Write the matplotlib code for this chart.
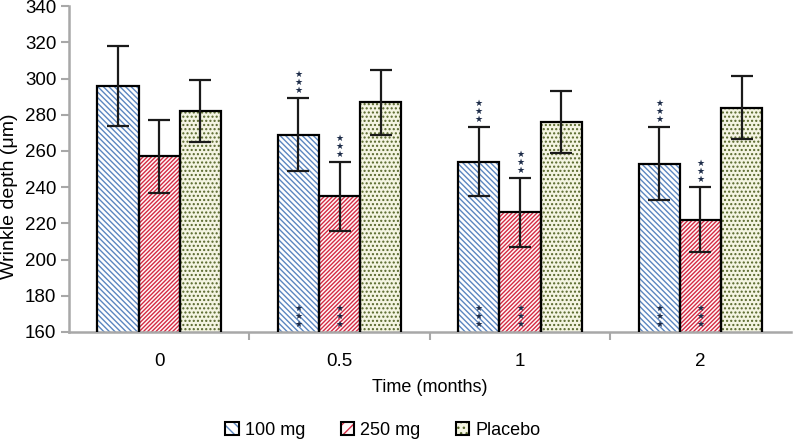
import numpy as np
import matplotlib.pyplot as plt
import matplotlib as mpl

plt.rcParams['font.family'] = ['Liberation Sans', 'DejaVu Sans']
plt.rcParams['hatch.linewidth'] = 1.0

# Data
months = ['0', '0.5', '1', '2']
series = ['100 mg', '250 mg', 'Placebo']
mean_100 = [296, 269, 254, 253]
err_100 = [22, 20, 19, 20]
mean_250 = [257, 235, 226, 222]
err_250 = [20, 19, 19, 18]
mean_pla = [282, 287, 276, 284]
err_pla = [17, 18, 17, 17.5]
# significance marks (*** above error bar and at the bar base)
sig_100 = [False, True, True, True]
sig_250 = [False, True, True, True]

means = [mean_100, mean_250, mean_pla]
errs = [err_100, err_250, err_pla]
sigs = [sig_100, sig_250, [False] * 4]

faces = ['white', '#fff8f8', '#f4f4e2']
hatch_cols = ['#5b86c0', '#d42a44', '#56662a']
hatches = ['\\' * 6, '/' * 8, '....']

fig = plt.figure(figsize=(7.93, 4.42), dpi=100)
ax = fig.add_axes([0.087, 0.249, 0.910, 0.737])

x = np.arange(len(months))
w = 0.228
handles = []
for i in range(3):
    pos = x + (i - 1) * w
    ax.bar(pos, means[i], w, color=faces[i], hatch=hatches[i],
           edgecolor=hatch_cols[i], linewidth=0, zorder=2)
    ax.bar(pos, means[i], w, fill=False, edgecolor='black', linewidth=1.6, zorder=3)
    ax.errorbar(pos, means[i], yerr=errs[i], fmt='none', ecolor='#1a1a1a',
                elinewidth=1.6, capsize=8, capthick=1.6, zorder=4)
    for j in range(len(months)):
        if sigs[i][j]:
            top = means[i][j] + errs[i][j]
            for k in range(3):
                ax.annotate('★', (pos[j], top), xytext=(0, 5.5 + k * 5.8),
                            textcoords='offset points', ha='center', va='center',
                            fontsize=6.5, color='#1c2b48', family='DejaVu Sans', zorder=5)
                ax.annotate('★', (pos[j], 160), xytext=(0, 5.5 + k * 5.8),
                            textcoords='offset points', ha='center', va='center',
                            fontsize=6.5, color='#1c2b48', family='DejaVu Sans', zorder=5)
    fillp = mpl.patches.Patch(facecolor=faces[i], hatch=hatches[i][:3],
                              edgecolor=hatch_cols[i], linewidth=0)
    edgep = mpl.patches.Patch(fill=False, edgecolor='black', linewidth=1.5)
    handles.append((fillp, edgep))

ax.set_ylim(160, 340)
ax.set_yticks(np.arange(160, 341, 20))
ax.set_xlim(-0.5, 3.5)
ax.set_xticks(x)
ax.set_xticklabels(months)
ax.set_xticks(np.arange(0.5, 3.5, 1), minor=True)
ax.tick_params(axis='x', which='major', length=0, pad=15, labelsize=13.5)
ax.tick_params(axis='x', which='minor', length=6, width=1.5, color='#a8a8a8', direction='out')
ax.tick_params(axis='y', length=6, width=1.5, color='#a8a8a8', labelsize=13.5, pad=3)
for s in ['top', 'right']:
    ax.spines[s].set_visible(False)
for s in ['left', 'bottom']:
    ax.spines[s].set_color('#a8a8a8')
    ax.spines[s].set_linewidth(1.8)
ax.set_xlabel('Time (months)', fontsize=13, labelpad=7)
ax.set_ylabel('Wrinkle depth (μm)', fontsize=14)
ax.yaxis.set_label_coords(-0.07, 0.417)

fig.legend(handles, series, loc='center', bbox_to_anchor=(0.483, 0.027), ncol=3,
           frameon=False, fontsize=13, handlelength=0.75, handleheight=0.75,
           handletextpad=0.35, columnspacing=1.95)

fig.savefig('out.png', dpi=100)
